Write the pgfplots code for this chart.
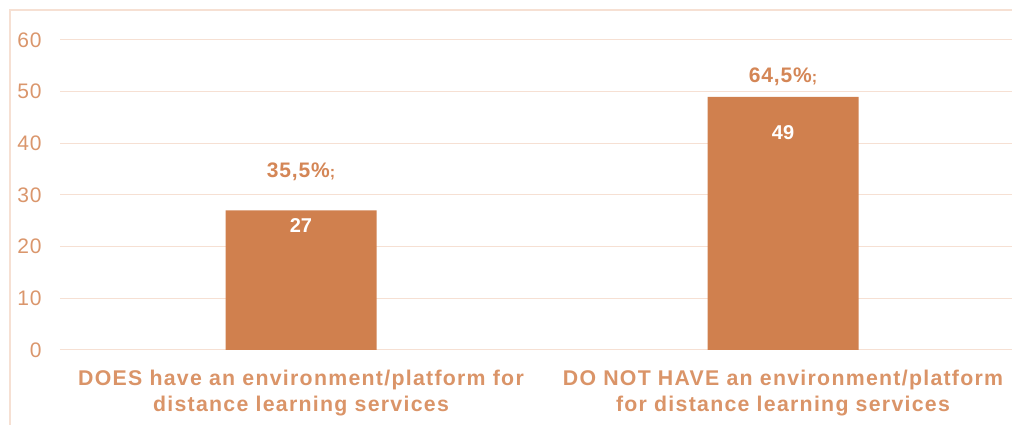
\documentclass[border=0pt]{standalone}
\usepackage{pgfplots}
\pgfplotsset{compat=1.18}
\usepackage{fontspec}
\setmainfont{Liberation Sans}
\newfontfamily\spaced[LetterSpace=6]{Liberation Sans}
\newfontfamily\spacedb[LetterSpace=4]{Liberation Sans}
\definecolor{barc}{RGB}{208,128,78}
\definecolor{lblc}{RGB}{212,134,86}
\definecolor{tickc}{RGB}{218,150,108}
\definecolor{catc}{RGB}{218,148,104}
\definecolor{gridc}{RGB}{246,224,211}
\begin{document}
\begin{tikzpicture}
\begin{axis}[
  at={(0,0)}, anchor=south west,
  scale only axis, width=964pt, height=310pt,
  xmin=-0.5, xmax=1.5, ymin=0, ymax=60,
  ytick={0,10,...,60},
  ymajorgrids, grid style={gridc, line width=1pt},
  axis y line*=left, y axis line style={draw=none},
  ytick style={draw=none},
  axis x line*=bottom, x axis line style={gridc, line width=1pt, -},
  xtick={0,1}, xtick style={draw=none},
  xticklabels={{DOES have an environment/platform for\\distance learning services},{DO NOT HAVE an environment/platform\\for distance learning services}},
  xticklabel style={align=center, font=\spaced\bfseries\fontsize{21.3}{25.5}\selectfont, text=catc, yshift=-17pt},
  extra x ticks={-0.5,0.5,1.5}, extra x tick labels={},
  extra x tick style={tick style={draw=gridc, line width=1pt}, major tick length=6pt, tick align=outside, grid=none},
  yticklabel style={font=\spacedb\fontsize{21}{22}\selectfont, text=tickc, anchor=east, xshift=-15pt},
  /pgf/number format/assume math mode=true,
  clip=false,
]
\addplot[ybar, bar width=151pt, fill=barc, draw=none] coordinates {(0,27) (1,49)};
\node[font=\spacedb\bfseries\fontsize{21}{22}\selectfont, text=lblc] at (axis cs:0,34.4) {35,5\%{\fontsize{16}{16}\selectfont;}};
\node[font=\spacedb\bfseries\fontsize{21}{22}\selectfont, text=lblc] at (axis cs:1,52.8) {64,5\%{\fontsize{16}{16}\selectfont;}};
\node[font=\bfseries\fontsize{20}{22}\selectfont, text=white] at (axis cs:0,24.0) {27};
\node[font=\bfseries\fontsize{20}{22}\selectfont, text=white] at (axis cs:1,42.0) {49};
\end{axis}
\draw[gridc, line width=1.2pt] (-50pt,-75pt) -- (-50pt,340pt) -- (952pt,340pt);
\pgfresetboundingbox
\path[use as bounding box] (-60pt,-75pt) rectangle (952pt,350pt);
\end{tikzpicture}
\end{document}
